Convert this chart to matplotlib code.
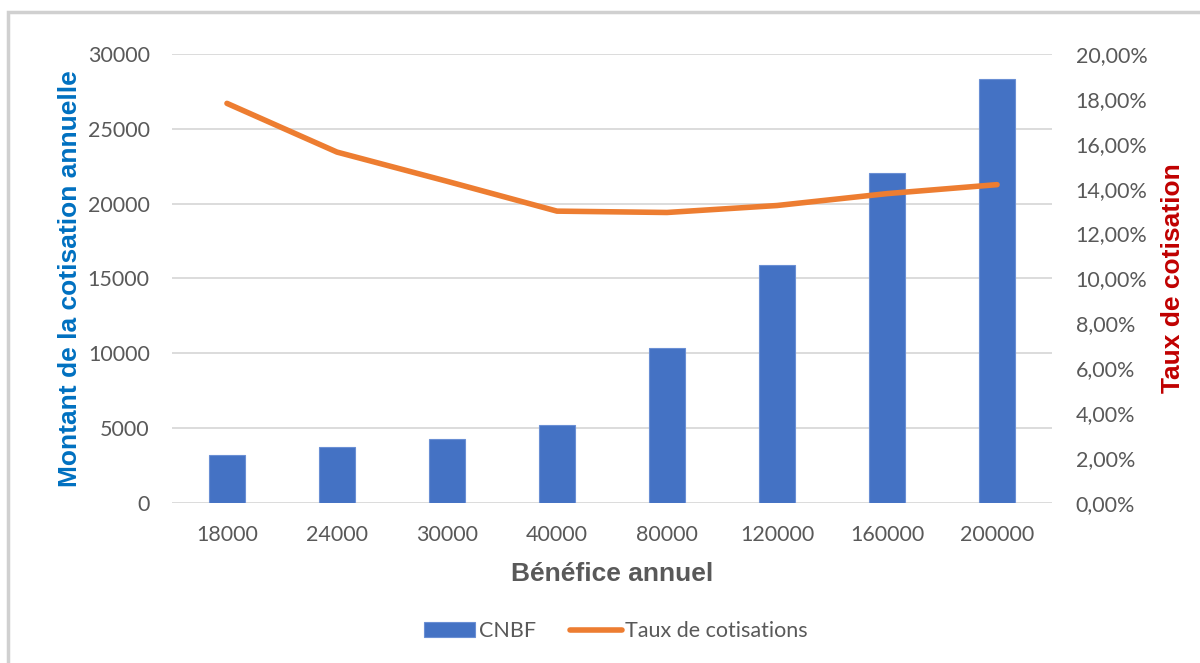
import matplotlib.pyplot as plt
from matplotlib.patches import Rectangle
from matplotlib.ticker import FuncFormatter, MultipleLocator

# Bénéfice annuel (catégories), cotisation CNBF et taux
benefices = ["18000", "24000", "30000", "40000", "80000", "120000", "160000", "200000"]
cotisations = [3200, 3750, 4300, 5200, 10350, 15900, 22050, 28350]
taux = [0.1780, 0.1563, 0.1433, 0.1300, 0.1294, 0.1325, 0.1378, 0.1418]

GRIS = "#595959"
plt.rcParams["font.family"] = ["Lato", "DejaVu Sans"]

fig = plt.figure(figsize=(12, 6.63), dpi=100)
ax = fig.add_axes([0.1433, 0.2413, 0.7334, 0.6773])
ax2 = ax.twinx()

x = range(len(benefices))
barres = ax.bar(x, cotisations, width=0.32, color="#4472C4", edgecolor="#6a8fd4",
                linewidth=0.8, label="CNBF", zorder=2)
ligne, = ax2.plot(x, taux, color="#ED7D31", lw=4, solid_capstyle="round",
                  label="Taux de cotisations", zorder=3)

ax.set_xlim(-0.5, len(benefices) - 0.5)
ax.set_ylim(0, 30000)
ax.yaxis.set_major_locator(MultipleLocator(5000))
ax2.set_ylim(0, 0.20)
ax2.yaxis.set_major_locator(MultipleLocator(0.02))
ax2.yaxis.set_major_formatter(FuncFormatter(lambda v, p: f"{v*100:.2f}".replace(".", ",") + "%"))

ax.set_xticks(list(x))
ax.set_xticklabels(benefices)
ax.grid(axis="y", color="#d9d9d9", lw=1.3, zorder=0)
ax.set_axisbelow(True)

for a in (ax, ax2):
    for s in a.spines.values():
        s.set_visible(False)
    a.tick_params(length=0, labelsize=15.5, labelcolor=GRIS)
ax.tick_params(axis="x", pad=16)
ax.tick_params(axis="y", pad=16)
ax2.tick_params(axis="y", pad=17)

ax.set_xlabel("Bénéfice annuel", fontsize=19, fontweight="bold", color=GRIS,
              family="Liberation Sans", labelpad=12)
ax.set_ylabel("Montant de la cotisation annuelle", fontsize=19, fontweight="bold",
              color="#0070C0", family="Liberation Sans", labelpad=4)
ax2.set_ylabel("Taux de cotisation", fontsize=19, fontweight="bold",
               color="#C00000", family="Liberation Sans", labelpad=10)

fig.legend([barres, ligne], ["CNBF", "Taux de cotisations"], loc="center",
           bbox_to_anchor=(0.513, 0.048), ncol=2, frameon=False, fontsize=15.5,
           labelcolor=GRIS, handlelength=2.4, handletextpad=0.15, columnspacing=1.6)

# cadre gris autour du graphique
fig.patches.append(Rectangle((0.0067, -0.05), 1.2, 1.032, transform=fig.transFigure,
                             fill=False, edgecolor="#d0d0d0", lw=2.5))

fig.savefig("out.png", dpi=100)
